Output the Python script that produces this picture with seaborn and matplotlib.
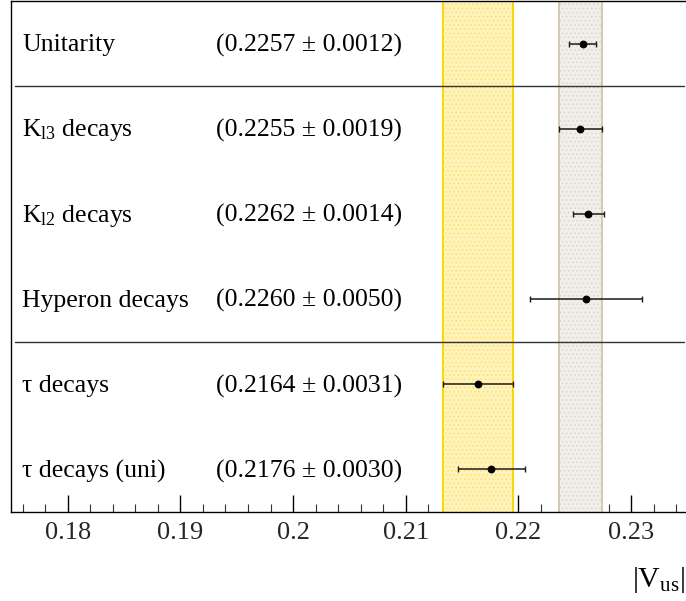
import matplotlib
matplotlib.use("Agg")
import matplotlib.pyplot as plt
import matplotlib.transforms as mtransforms
import numpy as np
import pandas as pd
import seaborn as sns

# Determinations of |V_us|
labels = [
    "Unitarity",
    r"K$_{\mathrm{l3}}$ decays",
    r"K$_{\mathrm{l2}}$ decays",
    "Hyperon decays",
    "\u03c4 decays",
    "\u03c4 decays (uni)",
]
central = [0.2257, 0.2255, 0.2262, 0.2260, 0.2164, 0.2176]
uncert = [0.0012, 0.0019, 0.0014, 0.0050, 0.0031, 0.0030]

# Reference bands: K_l3 (grey) and tau (yellow)
band_grey = (0.2255, 0.0019)
band_yellow = (0.2164, 0.0031)

# Horizontal separators between groups of measurements
separators = [0.5, 3.5]

xticks = [0.18, 0.19, 0.20, 0.21, 0.22, 0.23]
xtick_labels = ["0.18", "0.19", "0.2", "0.21", "0.22", "0.23"]

df = pd.DataFrame({"label": labels, "value": central, "err": uncert,
                   "row": np.arange(len(labels))})

sns.set_theme(style="ticks")
plt.rcParams["font.family"] = ["Liberation Serif", "DejaVu Serif"]
plt.rcParams["mathtext.fontset"] = "custom"
plt.rcParams["mathtext.rm"] = "Liberation Serif"
plt.rcParams["mathtext.it"] = "Liberation Serif:italic"
plt.rcParams["hatch.linewidth"] = 0.6

W, H = 686, 601
fig = plt.figure(figsize=(W / 100, H / 100), dpi=100)
left_px, right_px, top_px, bottom_px = 11.3, 687.5, 1.0, 512.0
ax = fig.add_axes([left_px / W, (H - bottom_px) / H,
                   (right_px - left_px) / W, (bottom_px - top_px) / H])

ax.set_xlim(0.175, 0.235)
ax.set_ylim(5.5, -0.5)

# Bands
def band(center, half, face, hatch_col, edge):
    ax.axvspan(center - half, center + half, facecolor=face, edgecolor=hatch_col,
               hatch="....", linewidth=0, zorder=1)
    ax.axvline(center - half, color=edge, lw=1.4, zorder=1.5)
    ax.axvline(center + half, color=edge, lw=1.4, zorder=1.5)

band(*band_yellow, face="#FFF3BC", hatch_col="#FFE066", edge="#FFD500")
band(*band_grey, face="#F1EFE9", hatch_col="#DCD6C4", edge="#D2C9AE")

for s in separators:
    ax.axhline(s, xmin=0.006, xmax=0.995, color="#333333", lw=1.0, zorder=2)

# Measurements
ax.errorbar(df["value"], df["row"], xerr=df["err"], fmt="none",
            ecolor="#1a1a1a", elinewidth=1.1, capsize=2.0, capthick=1.0, zorder=3)
sns.scatterplot(data=df, x="value", y="row", ax=ax, color="black", s=32,
                edgecolor="black", linewidth=0, zorder=4, legend=False)

trans = mtransforms.blended_transform_factory(ax.transAxes, ax.transData)
for i, row in df.iterrows():
    ax.text(0.0158, row["row"] + 0.02, row["label"], transform=trans, ha="left",
            va="center", fontsize=18.5, color="black")
    ax.text(0.3027, row["row"] + 0.02,
            "(%.4f \u00b1 %.4f)" % (row["value"], row["err"]),
            transform=trans, ha="left", va="center", fontsize=18.5, color="black")

# Axes styling
ax.set_xticks(xticks)
ax.set_xticklabels(xtick_labels)
ax.set_xticks(np.arange(0.176, 0.2351, 0.002), minor=True)
ax.tick_params(axis="x", which="major", direction="in", length=12.5, width=1.0,
               pad=7, labelsize=19, color="black", top=False)
ax.tick_params(axis="x", which="minor", direction="in", length=6, width=0.8,
               color="#333333", top=False)
ax.tick_params(axis="y", left=False, labelleft=False)
ax.set_xlabel("")
ax.set_ylabel("")
for sp in ax.spines.values():
    sp.set_color("black")
    sp.set_linewidth(1.0)

fig.text(685 / W, 1 - 580 / H, r"$|\mathrm{V}_{\mathrm{us}}|$", ha="right",
         va="center", fontsize=21.5, color="black")

fig.savefig("out.png", dpi=100)
